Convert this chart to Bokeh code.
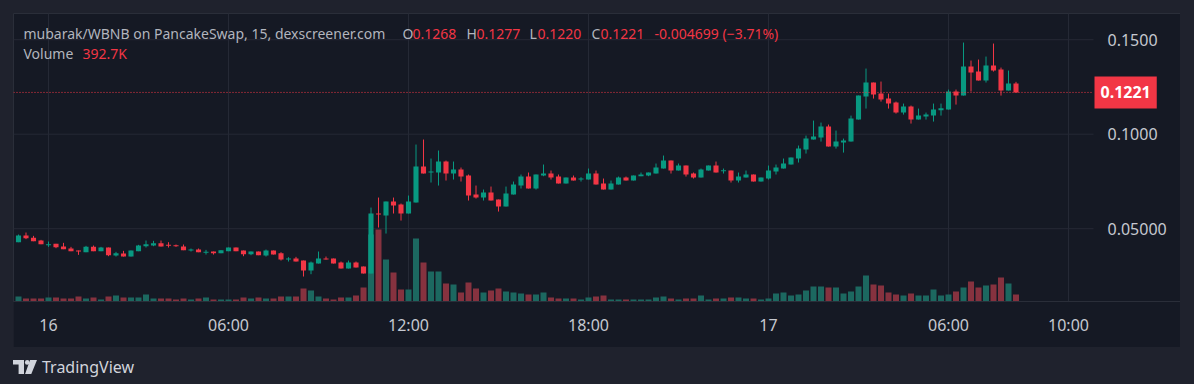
import numpy as np
from bokeh.plotting import figure
from bokeh.layouts import column
from bokeh.models import (Range1d, FixedTicker, Label, Div,
                          GlobalInlineStyleSheet, ColumnDataSource)
from bokeh.embed import file_html
from bokeh.resources import INLINE

# ---------------- data ----------------
tick_hours = [0, 6, 12, 18, 24, 30, 34]
tick_labels = ["16", "06:00", "12:00", "18:00", "17", "06:00", "10:00"]
price_ticks = [0.05, 0.10, 0.15]
price_tick_labels = ["0.05000", "0.1000", "0.1500"]
start_hour = -1.0      # first candle: 23:00 on the 15th
step_hours = 0.25      # 15-minute candles

opens = [
    0.04286, 0.04639, 0.04515, 0.04374, 0.04162, 0.04198, 0.04057, 0.03951, 0.03845, 0.03757,
    0.04039, 0.03810, 0.04004, 0.03580, 0.03686, 0.03527, 0.03810, 0.04074, 0.04110, 0.04233,
    0.04145, 0.04127, 0.04057, 0.03863, 0.03898, 0.03757, 0.03792, 0.03704, 0.03810, 0.04004,
    0.03845, 0.03651, 0.03792, 0.03580, 0.03845, 0.03704, 0.03368, 0.03421, 0.03315, 0.02786,
    0.03157, 0.03421, 0.03421, 0.03210, 0.02892, 0.03210, 0.02998, 0.02627, 0.05802, 0.05696,
    0.06437, 0.06278, 0.05802, 0.06384, 0.08289, 0.07989, 0.07971, 0.08553, 0.07918, 0.08130,
    0.07813, 0.06807, 0.06648, 0.06913, 0.06543, 0.06172, 0.06807, 0.07283, 0.07760, 0.07124,
    0.07813, 0.07918, 0.07760, 0.07389, 0.07707, 0.07619, 0.07601, 0.07918, 0.07389, 0.07071,
    0.07336, 0.07707, 0.07548, 0.07777, 0.07813, 0.07918, 0.08183, 0.08606, 0.08077, 0.08342,
    0.07918, 0.07707, 0.08077, 0.08342, 0.08060, 0.08077, 0.07548, 0.07707, 0.07866, 0.07495,
    0.07654, 0.08024, 0.08183, 0.08395, 0.08712, 0.09186, 0.09715, 0.09821, 0.10403, 0.09345,
    0.09557, 0.09609, 0.10774, 0.11991, 0.12732, 0.12150, 0.11885, 0.11673, 0.11144, 0.11462,
    0.10774, 0.10932, 0.10985, 0.11268, 0.11303, 0.12256, 0.12044, 0.13578, 0.13314, 0.12838,
    0.13631, 0.13420, 0.12308, 0.12680,
]
highs = [
    0.04692, 0.04798, 0.04621, 0.04409, 0.04321, 0.04198, 0.04251, 0.04039, 0.03845, 0.04092,
    0.04110, 0.04039, 0.04004, 0.03775, 0.03827, 0.03845, 0.04145, 0.04374, 0.04357, 0.04374,
    0.04286, 0.04163, 0.04163, 0.03951, 0.03951, 0.03880, 0.03792, 0.03863, 0.04004, 0.04004,
    0.03845, 0.03792, 0.03792, 0.03898, 0.03845, 0.03757, 0.03492, 0.03510, 0.03315, 0.03262,
    0.03792, 0.03527, 0.03421, 0.03262, 0.03315, 0.03262, 0.02998, 0.06119, 0.06648, 0.06437,
    0.06648, 0.06331, 0.06754, 0.09453, 0.09718, 0.08712, 0.09136, 0.08606, 0.08553, 0.08236,
    0.07866, 0.07283, 0.07072, 0.07230, 0.06543, 0.07230, 0.07495, 0.07866, 0.07971, 0.07866,
    0.08395, 0.08077, 0.07866, 0.07707, 0.07813, 0.07724, 0.08183, 0.08077, 0.07654, 0.07548,
    0.07760, 0.07760, 0.07813, 0.07971, 0.07971, 0.08448, 0.08871, 0.08606, 0.08448, 0.08342,
    0.07971, 0.08183, 0.08342, 0.08553, 0.08183, 0.08077, 0.07971, 0.08077, 0.07866, 0.07707,
    0.08342, 0.08395, 0.08712, 0.08765, 0.09400, 0.09927, 0.10720, 0.10615, 0.10509, 0.10192,
    0.09768, 0.10985, 0.12044, 0.13473, 0.12732, 0.12785, 0.12150, 0.11726, 0.11620, 0.11515,
    0.11356, 0.11144, 0.11620, 0.11620, 0.12361, 0.12361, 0.14849, 0.13896, 0.13949, 0.14108,
    0.14796, 0.13525, 0.13367, 0.12770,
]
lows = [
    0.04286, 0.04445, 0.04339, 0.04180, 0.04039, 0.03968, 0.03916, 0.03810, 0.03616, 0.03757,
    0.03810, 0.03810, 0.03545, 0.03527, 0.03527, 0.03527, 0.03810, 0.04004, 0.04074, 0.04057,
    0.04004, 0.04039, 0.03863, 0.03792, 0.03757, 0.03633, 0.03633, 0.03704, 0.03810, 0.03810,
    0.03545, 0.03598, 0.03598, 0.03527, 0.03633, 0.03315, 0.03262, 0.03262, 0.02469, 0.02592,
    0.03157, 0.03368, 0.03157, 0.02892, 0.02892, 0.02945, 0.02627, 0.02627, 0.05061, 0.04743,
    0.05802, 0.05431, 0.05802, 0.06384, 0.07918, 0.07442, 0.07283, 0.07548, 0.07601, 0.07495,
    0.06490, 0.06595, 0.06490, 0.06490, 0.05907, 0.06172, 0.06807, 0.07124, 0.07124, 0.07071,
    0.07777, 0.07601, 0.07389, 0.07389, 0.07548, 0.07495, 0.07601, 0.07336, 0.07071, 0.07071,
    0.07336, 0.07548, 0.07548, 0.07777, 0.07777, 0.07918, 0.08183, 0.07918, 0.08077, 0.07760,
    0.07654, 0.07707, 0.08077, 0.07971, 0.07918, 0.07442, 0.07442, 0.07707, 0.07495, 0.07495,
    0.07601, 0.07866, 0.08183, 0.08395, 0.08500, 0.08974, 0.09715, 0.09609, 0.09345, 0.09239,
    0.09027, 0.09609, 0.10774, 0.11356, 0.11885, 0.11726, 0.11356, 0.11091, 0.11038, 0.10562,
    0.10774, 0.10774, 0.10668, 0.10985, 0.11303, 0.11567, 0.12044, 0.12256, 0.12838, 0.12732,
    0.13314, 0.12044, 0.12308, 0.12200,
]
closes = [
    0.04639, 0.04498, 0.04339, 0.04180, 0.04180, 0.04021, 0.03916, 0.03810, 0.03827, 0.04039,
    0.03810, 0.04004, 0.03598, 0.03704, 0.03527, 0.03845, 0.04110, 0.04180, 0.04233, 0.04057,
    0.04110, 0.04074, 0.03863, 0.03898, 0.03757, 0.03775, 0.03704, 0.03863, 0.04004, 0.03810,
    0.03651, 0.03792, 0.03598, 0.03845, 0.03633, 0.03368, 0.03421, 0.03262, 0.02786, 0.03210,
    0.03421, 0.03368, 0.03157, 0.02892, 0.03210, 0.02945, 0.02627, 0.05802, 0.05767, 0.06437,
    0.06225, 0.05802, 0.06437, 0.08289, 0.07918, 0.08024, 0.08553, 0.07918, 0.08130, 0.07760,
    0.06754, 0.06648, 0.06913, 0.06490, 0.06172, 0.06860, 0.07336, 0.07760, 0.07124, 0.07866,
    0.07918, 0.07707, 0.07389, 0.07707, 0.07548, 0.07654, 0.07918, 0.07336, 0.07071, 0.07389,
    0.07707, 0.07548, 0.07813, 0.07866, 0.07971, 0.08236, 0.08606, 0.08077, 0.08342, 0.07866,
    0.07707, 0.08130, 0.08342, 0.07971, 0.08090, 0.07548, 0.07760, 0.07866, 0.07495, 0.07707,
    0.08077, 0.08236, 0.08448, 0.08765, 0.09241, 0.09768, 0.09874, 0.10403, 0.09345, 0.09609,
    0.09662, 0.10827, 0.12044, 0.12732, 0.12097, 0.11832, 0.11620, 0.11144, 0.11462, 0.10774,
    0.10985, 0.11038, 0.11303, 0.11374, 0.12256, 0.12044, 0.13578, 0.13261, 0.12838, 0.13631,
    0.13367, 0.12308, 0.12680, 0.12210,
]
volumes_k = [
    280, 168, 168, 168, 224, 224, 168, 168, 280, 168,
    224, 112, 280, 336, 224, 224, 224, 392, 168, 168,
    168, 112, 168, 112, 168, 224, 112, 112, 112, 112,
    224, 168, 224, 168, 168, 280, 280, 280, 728, 616,
    280, 168, 112, 224, 224, 336, 784, 3752, 4032, 2352,
    1624, 672, 672, 3528, 2184, 1680, 1680, 1008, 952, 504,
    1064, 728, 504, 616, 728, 560, 504, 448, 392, 392,
    504, 224, 168, 168, 168, 112, 224, 280, 336, 112,
    112, 112, 112, 112, 112, 224, 280, 168, 112, 168,
    168, 336, 112, 168, 168, 224, 224, 168, 168, 112,
    168, 448, 504, 336, 392, 616, 840, 840, 784, 784,
    448, 560, 840, 1456, 952, 896, 504, 392, 336, 448,
    336, 336, 672, 336, 392, 560, 784, 1120, 784, 896,
    952, 1344, 1008, 392.7,
]

title_text = "mubarak/WBNB on PancakeSwap, 15, dexscreener.com"
ohlc_text = ["O", "0.1268", "H", "0.1277", "L", "0.1220", "C", "0.1221"]
change_text = "-0.004699 (\u22123.71%)"
last_price_text = "0.1221"
volume_text = ["Volume", "392.7K"]

# ---------------- style / layout ----------------
UP, DOWN = "#089981", "#f23645"
VOL_UP, VOL_DOWN = "#1c6860", "#86323f"
BG_OUT, BG_IN = "#1f222d", "#151924"
GRID = "#252935"
TXT = "#b2b5be"
FONT = "Noto Sans"

# chart frame on the page: x 13..1180, y 13..347 ; candle pane x 13..1093, y 13..301
FX, FY = 13, 13
FW, FH = 1167, 288          # frame incl. the price-scale strip
PANE_R = 1093               # right edge of the candle pane (page px)
HIDDEN_R, BOTTOM = 90, 46   # right panel (clipped away), time-axis strip
X0, X1 = -7.0 / 6.0, 1132.0 / 30.0
Y0, Y1 = 0.01148, 0.16386


def dx(px):
    return X0 + (px - FX) / FW * (X1 - X0)


def dy(py):
    return Y1 - (py - FY) / FH * (Y1 - Y0)


n = len(opens)
t = start_hour + step_hours * np.arange(n)
o = np.array(opens); c = np.array(closes)
hi = np.array(highs); lo = np.array(lows)
up = c >= o
body_top = np.maximum(o, c)
body_bot = np.minimum(o, c)
min_body = (Y1 - Y0) / FH * 1.0
body_bot = np.minimum(body_bot, body_top - min_body)
colors = np.where(up, UP, DOWN)
vcolors = np.where(up, VOL_UP, VOL_DOWN)

src = ColumnDataSource(dict(t=t, hi=hi, lo=lo, top=body_top, bot=body_bot,
                            col=colors, vol=np.array(volumes_k), vcol=vcolors))

p = figure(width=FW + HIDDEN_R, height=FH + BOTTOM, x_range=Range1d(X0, X1),
           y_range=Range1d(Y0, Y1), output_backend="svg", toolbar_location=None,
           y_axis_location="right", min_border_left=0, min_border_top=0,
           min_border_right=HIDDEN_R, min_border_bottom=BOTTOM)
p.margin = (FY, 0, 0, FX)
p.background_fill_color = BG_IN
p.border_fill_color = BG_IN
p.outline_line_color = "#2a2e39"
p.styles = {"clip-path": "inset(0px %dpx 0px 0px)" % HIDDEN_R}

# horizontal price grid, only across the candle pane
p.segment(x0=X0, x1=dx(PANE_R), y0=price_ticks, y1=price_ticks, line_color=GRID,
          line_width=1)

# volume
p.extra_y_ranges = {"vol": Range1d(0, FH * 56)}
p.vbar(x="t", top="vol", bottom=0, width=0.2, fill_color="vcol", line_color=None,
       y_range_name="vol", source=src)

# candles
p.segment(x0="t", y0="lo", x1="t", y1="hi", line_color="col", line_width=1, source=src)
p.vbar(x="t", top="top", bottom="bot", width=0.17, fill_color="col", line_color=None,
       source=src)

# last price line
p.segment(x0=X0, x1=dx(PANE_R), y0=closes[-1], y1=closes[-1], line_color=DOWN,
          line_dash="1 2", line_width=1)

# axes
p.xaxis.ticker = FixedTicker(ticks=tick_hours)
p.xaxis.major_label_overrides = {k: v for k, v in zip(tick_hours, tick_labels)}
p.yaxis.ticker = FixedTicker(ticks=price_ticks)
p.yaxis.major_label_overrides = {k: v for k, v in zip(price_ticks, price_tick_labels)}
p.yaxis.fixed_location = dx(PANE_R)
for ax in (p.xaxis, p.yaxis):
    ax.major_label_text_color = "#c5c8d0"
    ax.major_label_text_font = FONT
    ax.major_label_text_font_size = "16px"
    ax.major_tick_line_color = None
    ax.minor_tick_line_color = None
    ax.major_tick_out = 0
    ax.major_tick_in = 0
p.xaxis.axis_line_color = "#2a2e39"
p.yaxis.axis_line_color = None
p.yaxis.major_label_standoff = 14
p.xaxis.major_label_standoff = 12
p.xgrid.grid_line_color = GRID
p.ygrid.grid_line_color = None

# last price tag on the price scale
p.add_layout(Label(x=dx(PANE_R + 1), y=closes[-1], text=last_price_text,
                   text_align="left", text_baseline="middle", text_color="white",
                   text_font=FONT, text_font_size="16px", text_font_style="bold",
                   background_fill_color=DOWN, padding=(6, 10)))

# legend header
def add_text(px, py, text, color, size="14px"):
    p.add_layout(Label(x=dx(px), y=dy(py), text=text, text_align="left",
                       text_baseline="middle", text_color=color, text_font=FONT,
                       text_font_size=size))

add_text(23, 33, title_text, TXT)
ohlc_x = [402, 412, 466, 476, 529, 537, 591, 600]
for k, (px, s) in enumerate(zip(ohlc_x, ohlc_text)):
    add_text(px, 33, s, TXT if k % 2 == 0 else DOWN)
add_text(654, 33, change_text, DOWN)
add_text(23, 53, volume_text[0], TXT)
add_text(82, 53, volume_text[1], DOWN)

# TradingView attribution below the chart frame
logo_html = (
    '<div style="display:flex;align-items:center;color:#d1d4dc;'
    'font-family:\'Noto Sans\';font-size:16px;white-space:nowrap;line-height:22px;">'
    '<svg width="24" height="14" viewBox="0 0 24 14" style="margin-right:5px">'
    '<path d="M0 0H11V14H5.6V4.6H0Z" fill="#d1d4dc"/>'
    '<circle cx="14.2" cy="2.4" r="2.3" fill="#d1d4dc"/>'
    '<path d="M17 0H24L18.3 14H12.1Z" fill="#d1d4dc"/>'
    '</svg>TradingView</div>'
)
div = Div(text=logo_html, width=200, height=22, margin=(9, 0, 0, FX))

layout = column(p, div, spacing=0)
layout.stylesheets = [GlobalInlineStyleSheet(
    css="html, body { background-color: #1f222d !important; overflow: hidden; }")]

open("out.html", "w").write(file_html(layout, INLINE))
